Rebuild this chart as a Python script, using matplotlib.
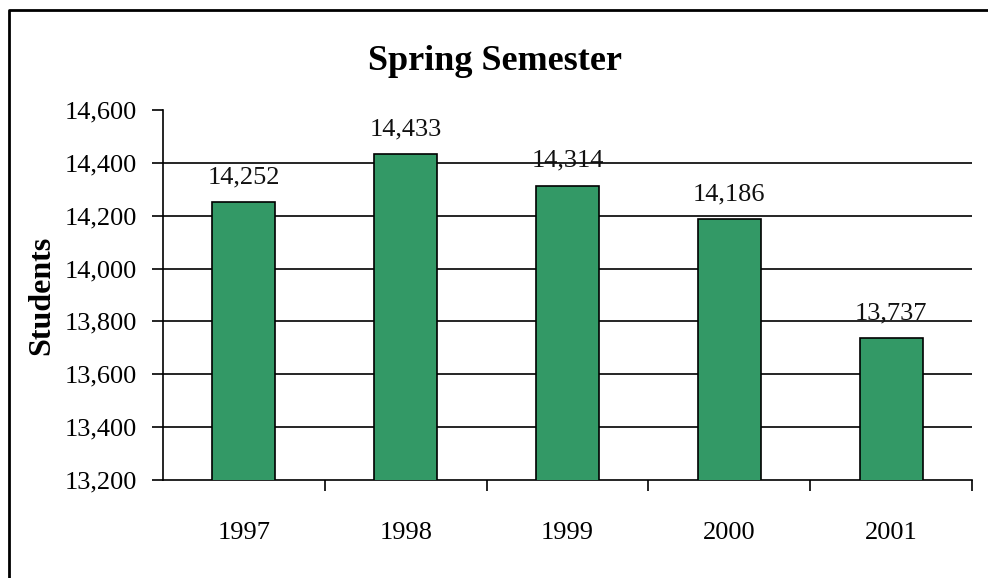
import matplotlib.pyplot as plt
from matplotlib.lines import Line2D
from matplotlib.ticker import FuncFormatter, FixedLocator

years = ['1997', '1998', '1999', '2000', '2001']
students = [14252, 14433, 14314, 14186, 13737]
y_ticks = [13200, 13400, 13600, 13800, 14000, 14200, 14400, 14600]

plt.rcParams['font.family'] = 'Liberation Serif'

fig = plt.figure(figsize=(9.88, 5.78), dpi=100)
ax = fig.add_axes([163 / 988, 1 - 480 / 578, (972 - 163) / 988, (480 - 110) / 578])

# outer frame of the chart: only the left and top edges show
fx, fy = 9 / 988, 1 - 10 / 578
fig.lines.append(Line2D([fx, fx, 1.01], [-0.01, fy, fy], transform=fig.transFigure,
                        color='black', linewidth=2))

x = range(len(years))
ax.bar(x, students, width=0.39, color='#339966', edgecolor='black',
       linewidth=1.2, zorder=3)
for xi, v in zip(x, students):
    ax.annotate(f'{v:,}', (xi, v), xytext=(0, 10), textcoords='offset points',
                ha='center', va='bottom', fontsize=19, color='#111')

ax.set_xlim(-0.5, len(years) - 0.5)
ax.set_ylim(13200, 14600)
ax.set_yticks(y_ticks)
ax.yaxis.set_major_formatter(FuncFormatter(lambda v, p: f'{int(v):,}'))
for t in y_ticks[1:-1]:
    ax.axhline(t, color='black', linewidth=1.2, zorder=1)

ax.set_xticks(list(x))
ax.set_xticklabels(years)
ax.xaxis.set_minor_locator(FixedLocator([i + 0.5 for i in x]))
ax.tick_params(axis='x', which='major', length=0, pad=30, labelsize=19)
ax.tick_params(axis='x', which='minor', length=8, width=1.2, direction='out')
ax.tick_params(axis='y', length=8, width=1.2, pad=11, labelsize=19, direction='out')

for s in ['top', 'right']:
    ax.spines[s].set_visible(False)
for s in ['left', 'bottom']:
    ax.spines[s].set_linewidth(1.2)

ax.set_ylabel('Students', fontsize=23, fontweight='bold', labelpad=6)
fig.text(495 / 988, 1 - 62 / 578, 'Spring Semester', ha='center', va='center',
         fontsize=26, fontweight='bold')

fig.savefig('out.png', dpi=100)
